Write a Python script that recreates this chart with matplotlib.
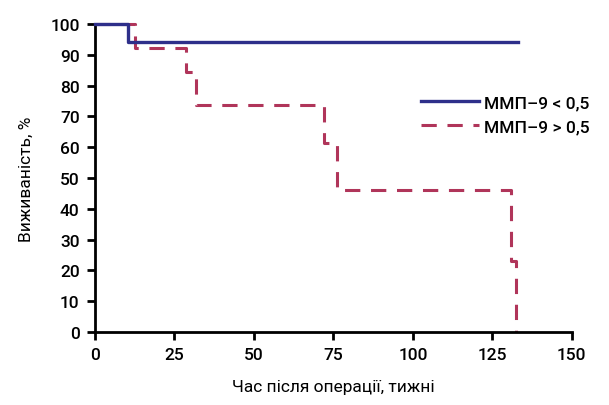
import matplotlib.pyplot as plt

# Криві виживання (Каплан-Мейєр)
t_low = [0, 10.4, 133]
s_low = [100, 94.1, 94.1]

t_high = [0, 12.6, 28.7, 31.9, 71.9, 76, 131, 132.4]
s_high = [100, 92.3, 84.6, 73.8, 61.5, 46.2, 23.1, 0]

x_ticks = [0, 25, 50, 75, 100, 125, 150]
y_ticks = [0, 10, 20, 30, 40, 50, 60, 70, 80, 90, 100]

plt.rcParams['font.family'] = ['Roboto', 'Liberation Sans', 'DejaVu Sans']
plt.rcParams['font.weight'] = 'medium'

fig = plt.figure(figsize=(6.09, 4.06), dpi=100)
ax = fig.add_axes([0.156, 0.180, 0.783, 0.758])

ax.step(t_low, s_low, where='post', color='#2e2f8a', linewidth=2.4,
        label='ММП–9 < 0,5', clip_on=False, zorder=3)
ax.step(t_high, s_high, where='post', color='#b0355a', linewidth=2.2,
        linestyle=(0, (5, 3.5)), label='ММП–9 > 0,5', clip_on=False, zorder=2)

ax.set_xlim(0, 150)
ax.set_ylim(0, 100)
ax.set_xticks(x_ticks)
ax.set_yticks(y_ticks)

for side in ['top', 'right']:
    ax.spines[side].set_visible(False)
for side in ['left', 'bottom']:
    ax.spines[side].set_linewidth(2)
ax.tick_params(width=2, length=6, labelsize=12.5, direction='out', pad=5)

ax.set_xlabel('Час після операції, тижні', fontsize=12.5, labelpad=12)
ax.set_ylabel('Виживаність, %', fontsize=12.5, labelpad=12)

ax.legend(loc='upper right', bbox_to_anchor=(1.07, 0.82), frameon=False,
          fontsize=12.5, handlelength=3.3, handletextpad=0.3, labelspacing=0.5)

plt.savefig('out.png', dpi=100)
